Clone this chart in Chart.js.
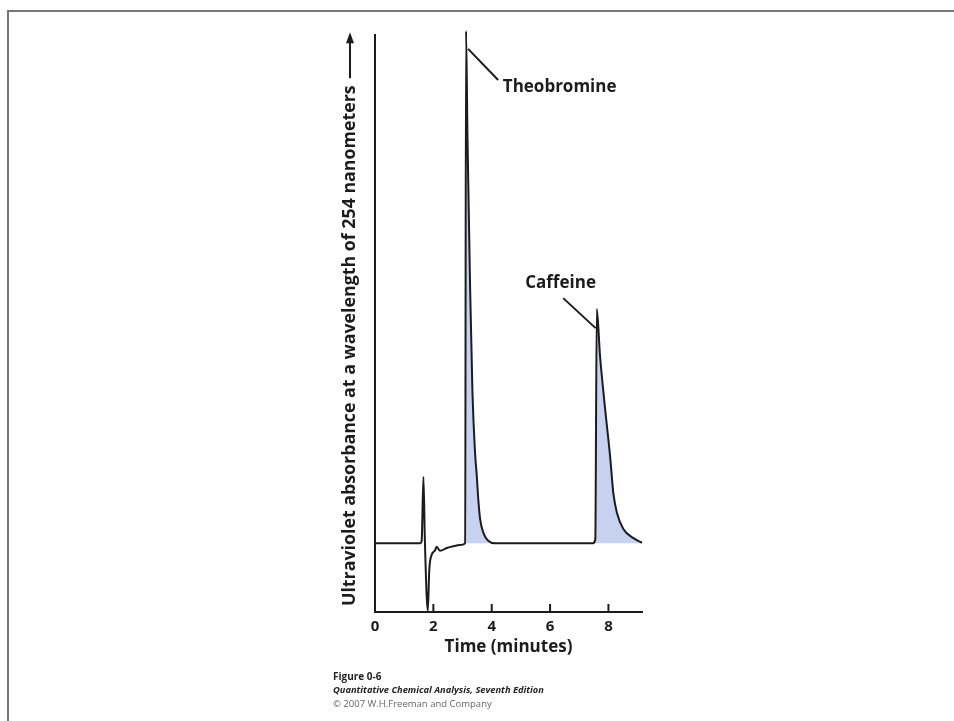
<!DOCTYPE html>
<html>
<head>
<meta charset="utf-8">
<script src="https://cdn.jsdelivr.net/npm/chart.js@4/dist/chart.umd.min.js"></script>
<style>
  body { margin: 0; background: #fff; }
  #frame { position: absolute; left: 7px; top: 10px; width: 960px; height: 720px; border-top: 2px solid #777; border-left: 2px solid #777; }
  canvas { position: absolute; left: 0; top: 0; }
</style>
</head>
<body>
<div id="frame"></div>
<canvas id="chart" width="954" height="721"></canvas>
<script>
// retention time (minutes) and UV absorbance (arbitrary units, 0-100)
const times = [0, 1.55, 1.60, 1.66, 1.71, 1.81, 1.86, 1.94, 2.06, 2.11, 2.23, 2.46, 2.68, 2.91, 3.09,
  3.12, 3.17, 3.26, 3.34, 3.43, 3.49, 3.53, 3.60, 3.74, 3.87, 4.11,
  7.47, 7.55, 7.60, 7.71, 7.88, 8.06, 8.17, 8.29, 8.51, 8.86, 9.15];
const absorbance = [11.9, 11.9, 12.4, 23.4, 12.2, 0.2, 7.3, 9.9, 10.7, 11.3, 10.6, 11.1, 11.4, 11.6, 11.9,
  100.7, 82, 56, 38, 27.5, 23.5, 20.2, 16.2, 13.4, 12.4, 11.9,
  11.9, 12.6, 52.5, 44.5, 35.5, 26.8, 20.5, 17.2, 14.4, 12.8, 12.0];
const baseline = 11.9;
const peakNames = ['Theobromine', 'Caffeine'];
const peakStart = [3.09, 7.47];
const peakEnd = [4.11, 9.15];
const xTicks = [0, 2, 4, 6, 8];

const lineColor = '#1c1c1c';
const fillColor = '#c6d2ef';
const font = "'Open Sans', 'DejaVu Sans', sans-serif";

const trace = times.map((t, i) => ({ x: t, y: absorbance[i] }));
const peakSets = peakNames.map((name, k) => ({
  label: name,
  data: trace.filter(p => p.x >= peakStart[k] && p.x <= peakEnd[k]),
  borderWidth: 0,
  backgroundColor: fillColor,
  fill: { value: baseline },
  pointRadius: 0,
  cubicInterpolationMode: 'monotone',
  clip: false
}));

// label anchors in data units: [labelX, labelY, leaderStartX, leaderStartY, leaderEndX, leaderEndY]
const labelSpots = [
  [4.38, 91.0, 4.22, 92.2, 3.19, 97.6],
  [6.36, 57.0, 6.45, 54.4, 7.56, 49.2]
];

const annotate = {
  id: 'annotate',
  afterDraw(chart) {
    const { ctx, scales: { x, y } } = chart;
    ctx.save();
    ctx.strokeStyle = lineColor;
    ctx.fillStyle = lineColor;
    ctx.lineWidth = 2;
    // inward tick marks
    xTicks.slice(1).forEach(v => {
      const px = x.getPixelForValue(v);
      ctx.beginPath();
      ctx.moveTo(px, y.bottom);
      ctx.lineTo(px, y.bottom - 8);
      ctx.stroke();
    });
    // peak labels with leader lines
    ctx.font = 'bold 17px ' + font;
    ctx.textBaseline = 'middle';
    peakNames.forEach((name, k) => {
      const s = labelSpots[k];
      ctx.beginPath();
      ctx.moveTo(x.getPixelForValue(s[2]), y.getPixelForValue(s[3]));
      ctx.lineTo(x.getPixelForValue(s[4]), y.getPixelForValue(s[5]));
      ctx.stroke();
      ctx.textAlign = k === 0 ? 'left' : 'center';
      ctx.fillText(name, x.getPixelForValue(s[0]), y.getPixelForValue(s[1]));
    });
    // y axis title with arrow
    ctx.translate(350, 606);
    ctx.rotate(-Math.PI / 2);
    ctx.font = 'bold 17.8px ' + font;
    ctx.textAlign = 'left';
    const title = 'Ultraviolet absorbance at a wavelength of 254 nanometers';
    ctx.fillText(title, 0, 0);
    const w = ctx.measureText(title).width;
    ctx.beginPath();
    ctx.moveTo(w + 7, 0);
    ctx.lineTo(w + 45, 0);
    ctx.stroke();
    ctx.beginPath();
    ctx.moveTo(w + 53, 0);
    ctx.lineTo(w + 42, -4);
    ctx.lineTo(w + 42, 4);
    ctx.closePath();
    ctx.fill();
    ctx.restore();
    // caption
    ctx.save();
    ctx.textAlign = 'left';
    ctx.textBaseline = 'middle';
    ctx.fillStyle = '#222';
    ctx.font = 'bold 10px ' + font;
    ctx.fillText('Figure 0-6', 333, 677);
    ctx.font = 'italic bold 9.3px ' + font;
    ctx.fillText('Quantitative Chemical Analysis, Seventh Edition', 333, 690);
    ctx.fillStyle = '#666';
    ctx.font = '9.5px ' + font;
    ctx.fillText('\u00a9 2007 W.H.Freeman and Company', 333, 704);
    ctx.restore();
  }
};

new Chart(document.getElementById('chart'), {
  type: 'line',
  data: {
    datasets: [{
      label: 'Chromatogram',
      data: trace,
      borderColor: lineColor,
      borderWidth: 2,
      pointRadius: 0,
      fill: false,
      cubicInterpolationMode: 'monotone',
      clip: false
    }, ...peakSets]
  },
  options: {
    responsive: false,
    animation: false,
    devicePixelRatio: 1,
    layout: { padding: { left: 365, right: 312, top: 35, bottom: 59 } },
    plugins: { legend: { display: false }, tooltip: { enabled: false } },
    scales: {
      x: {
        type: 'linear',
        min: 0,
        max: 9.15,
        afterFit: s => { s.height = 50; },
        grid: { display: false, drawTicks: false },
        border: { display: true, color: lineColor, width: 2 },
        ticks: {
          stepSize: 2,
          includeBounds: false,
          padding: 6,
          color: lineColor,
          font: { family: font, size: 15, weight: 'bold' },
          callback: v => (xTicks.includes(v) ? String(v) : '')
        },
        title: {
          display: true,
          text: 'Time (minutes)',
          color: lineColor,
          font: { family: font, size: 17, weight: 'bold' },
          padding: { top: 0, bottom: 5 }
        }
      },
      y: {
        min: 0,
        max: 100,
        afterFit: s => { s.width = 10; },
        grid: { display: false, drawTicks: false },
        border: { display: true, color: lineColor, width: 2 },
        ticks: { display: false }
      }
    }
  },
  plugins: [annotate]
});
</script>
</body>
</html>
